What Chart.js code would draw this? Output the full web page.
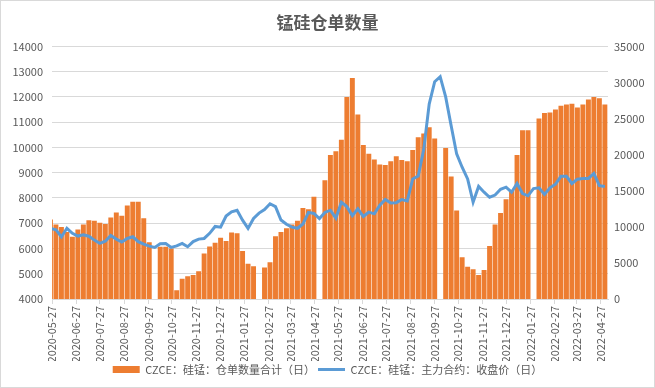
<!DOCTYPE html>
<html>
<head>
<meta charset="utf-8">
<script src="https://cdn.jsdelivr.net/npm/chart.js@4/dist/chart.umd.min.js"></script>
<style>
html, body { margin: 0; padding: 0; background: #fff; }
#wrap { width: 655px; height: 388px; }
</style>
</head>
<body>
<div id="wrap"><canvas id="chart" width="655" height="388"></canvas></div>
<script>
// 周度取样（周一），仓单数量（左轴）与主力合约收盘价（右轴）
const weekDates = [
  '2020-05-25','2020-06-01','2020-06-08','2020-06-15','2020-06-22','2020-06-29','2020-07-06','2020-07-13','2020-07-20','2020-07-27',
  '2020-08-03','2020-08-10','2020-08-17','2020-08-24','2020-08-31','2020-09-07','2020-09-14','2020-09-21','2020-09-28','2020-10-05',
  '2020-10-12','2020-10-19','2020-10-26','2020-11-02','2020-11-09','2020-11-16','2020-11-23','2020-11-30','2020-12-07','2020-12-14',
  '2020-12-21','2020-12-28','2021-01-04','2021-01-11','2021-01-18','2021-01-25','2021-02-01','2021-02-08','2021-02-15','2021-02-22',
  '2021-03-01','2021-03-08','2021-03-15','2021-03-22','2021-03-29','2021-04-05','2021-04-12','2021-04-19','2021-04-26','2021-05-03',
  '2021-05-10','2021-05-17','2021-05-24','2021-05-31','2021-06-07','2021-06-14','2021-06-21','2021-06-28','2021-07-05','2021-07-12',
  '2021-07-19','2021-07-26','2021-08-02','2021-08-09','2021-08-16','2021-08-23','2021-08-30','2021-09-06','2021-09-13','2021-09-20',
  '2021-09-27','2021-10-04','2021-10-11','2021-10-18','2021-10-25','2021-11-01','2021-11-08','2021-11-15','2021-11-22','2021-11-29',
  '2021-12-06','2021-12-13','2021-12-20','2021-12-27','2022-01-03','2022-01-10','2022-01-17','2022-01-24','2022-01-31','2022-02-07',
  '2022-02-14','2022-02-21','2022-02-28','2022-03-07','2022-03-14','2022-03-21','2022-03-28','2022-04-04','2022-04-11','2022-04-18',
  '2022-04-25','2022-05-02'
];

// CZCE：硅锰：仓单数量合计（日）
const warrantQty = [
  7150, 6950, 6850, 6650, 6460, 6750, 6950, 7120, 7100, 7020,
  6970, 7230, 7420, 7300, 7700, 7850, 7850, 7200, 6250, null,
  6070, 6070, 6000, 4350, 4800, 4900, 4950, 5100, 5800, 6080,
  6230, 6420, 6300, 6630, 6600, 5900, 5400, 5300, null, 5250,
  5450, 6480, 6650, 6800, 6950, 7100, 7600, 7550, 8050, null,
  8700, 9700, 9850, 10300, 12000, 12750, 11300, 10100, 9750, 9520,
  9320, 9300, 9450, 9650, 9500, 9450, 9900, 10400, 10550, 10800,
  10350, null, 9980, 8850, 7500, 5650, 5280, 5180, 4950, 5150,
  6100, 6950, 7400, 7950, 8300, 9700, 10680, 10680, null, 11150,
  11360, 11380, 11500, 11650, 11700, 11730, 11580, 11700, 11900, 12000,
  11950, 11700
];

// CZCE：硅锰：主力合约：收盘价（日）
const closePrice = [
  9780, 9600, 8600, 9800, 9100, 8720, 8900, 8700, 8160, 7700,
  8000, 8800, 8300, 7900, 8390, 8620, 7950, 7600, 7330, 7150,
  7650, 7700, 7150, 7350, 7700, 7240, 7950, 8300, 8390, 9100,
  10050, 9950, 11500, 12080, 12300, 10930, 9780, 11150, 11900, 12400,
  13200, 12800, 10950, 10350, 9950, 9800, 10400, 12000, 11850, 11150,
  12000, 12300, 11200, 13400, 12800, 11550, 12500, 11430, 12030, 11800,
  13000, 13800, 13300, 13350, 13780, 13600, 16640, 17050, 20700, 27000,
  30100, 30800, 28000, 24000, 20100, 18260, 16640, 13420, 15600, 14800,
  14100, 14400, 15200, 15490, 14800, 16000, 14610, 14300, 15300, 15400,
  14500, 15400, 15900, 17000, 17000, 16000, 16600, 16700, 16700, 17400,
  15700, 15600
];

// 横轴刻度标签（每月27日）
const tickLabels = [
  '2020-05-27','2020-06-27','2020-07-27','2020-08-27','2020-09-27','2020-10-27','2020-11-27','2020-12-27',
  '2021-01-27','2021-02-27','2021-03-27','2021-04-27','2021-05-27','2021-06-27','2021-07-27','2021-08-27',
  '2021-09-27','2021-10-27','2021-11-27','2021-12-27','2022-01-27','2022-02-27','2022-03-27','2022-04-27'
];
const axisEnd = '2022-05-06';

const startDay = Date.UTC(2020, 4, 27);
function dayOffset(s) {
    const [y, m, d] = s.split('-').map(Number);
    return (Date.UTC(y, m - 1, d) - startDay) / 86400000;
}
const tickOffsets = tickLabels.map(dayOffset);

Chart.defaults.font.family = "'Noto Sans CJK SC', 'Noto Sans', sans-serif";
Chart.defaults.color = '#595959';

// 外框
const framePlugin = {
    id: 'frame',
    beforeDraw(chart) {
        const ctx = chart.ctx;
        ctx.save();
        ctx.fillStyle = '#ffffff';
        ctx.fillRect(0, 0, chart.width, chart.height);
        ctx.restore();
    },
    afterDraw(chart) {
        const ctx = chart.ctx;
        ctx.save();
        ctx.strokeStyle = '#d9d9d9';
        ctx.lineWidth = 1;
        ctx.strokeRect(0.5, 0.5, chart.width - 1, chart.height - 1);
        ctx.restore();
    }
};

const ctx = document.getElementById('chart').getContext('2d');
new Chart(ctx, {
    type: 'bar',
    data: {
        datasets: [{
            label: 'CZCE：硅锰：仓单数量合计（日）',
            data: weekDates.map((d, i) => ({ x: dayOffset(d), y: warrantQty[i] })),
            backgroundColor: '#ED7D31',
            borderWidth: 0,
            barPercentage: 0.9,
            categoryPercentage: 1,
            pointStyle: 'rect',
            yAxisID: 'y',
            clip: 0,
            order: 1
        }, {
            type: 'line',
            label: 'CZCE：硅锰：主力合约：收盘价（日）',
            data: weekDates.map((d, i) => ({ x: dayOffset(d), y: closePrice[i] })),
            borderColor: '#5B9BD5',
            backgroundColor: '#5B9BD5',
            borderWidth: 3,
            pointRadius: 0,
            pointStyle: 'line',
            tension: 0,
            yAxisID: 'y1',
            clip: 0,
            order: 0
        }]
    },
    options: {
        responsive: false,
        animation: false,
        devicePixelRatio: 1,
        layout: { padding: { left: 0, right: 0, top: 0, bottom: 3 } },
        plugins: {
            title: {
                display: true,
                text: '锰硅仓单数量',
                color: '#595959',
                font: { size: 17, weight: 'bold' },
                padding: { top: 12, bottom: 14 }
            },
            legend: {
                position: 'bottom',
                labels: {
                    usePointStyle: true,
                    pointStyleWidth: 27,
                    boxHeight: 7,
                    color: '#595959',
                    font: { size: 11 },
                    padding: 3,
                    sort: (a, b) => a.datasetIndex - b.datasetIndex
                }
            },
            tooltip: { enabled: false }
        },
        scales: {
            x: {
                type: 'linear',
                min: 0,
                max: dayOffset(axisEnd),
                offset: false,
                afterBuildTicks(axis) {
                    axis.ticks = tickOffsets.map(v => ({ value: v }));
                },
                afterFit(scale) { scale.height = 62; },
                ticks: {
                    autoSkip: false,
                    maxRotation: 90,
                    minRotation: 90,
                    padding: 2,
                    font: { size: 11 },
                    callback: (v) => tickLabels[tickOffsets.indexOf(v)]
                },
                grid: {
                    display: true,
                    drawOnChartArea: false,
                    drawTicks: true,
                    tickLength: 5,
                    color: '#d9d9d9',
                    offset: false
                },
                border: { color: '#d9d9d9' }
            },
            y: {
                position: 'left',
                min: 4000,
                max: 14000,
                ticks: {
                    stepSize: 1000,
                    padding: 9,
                    font: { size: 11 },
                    callback: (v) => String(v)
                },
                grid: { color: '#d9d9d9', drawTicks: false },
                border: { display: false },
                afterFit(scale) { scale.width = 52; }
            },
            y1: {
                position: 'right',
                min: 0,
                max: 35000,
                ticks: {
                    stepSize: 5000,
                    padding: 6,
                    font: { size: 11 },
                    callback: (v) => String(v)
                },
                grid: { drawOnChartArea: false, drawTicks: false },
                border: { display: false },
                afterFit(scale) { scale.width = 47; }
            }
        }
    },
    plugins: [framePlugin]
});
</script>
</body>
</html>
